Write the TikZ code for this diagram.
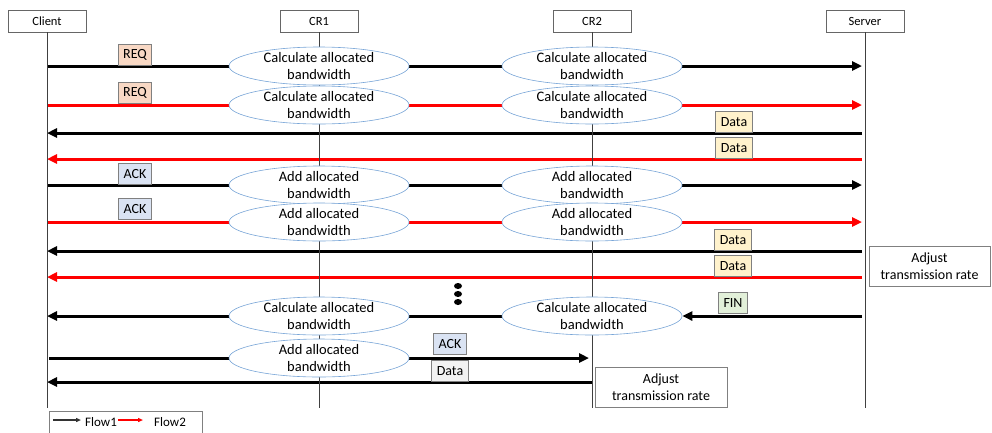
\documentclass[tikz,border=0pt]{standalone}
\usepackage{fontspec}
\setmainfont{Carlito}
\usetikzlibrary{arrows.meta,backgrounds,positioning,shapes.geometric}
\definecolor{procblue}{RGB}{120,165,215}
\definecolor{reqfill}{RGB}{248,216,196}
\definecolor{ackfill}{RGB}{218,227,243}
\definecolor{datafill}{RGB}{255,242,204}
\definecolor{finfill}{RGB}{226,240,217}
\definecolor{lastfill}{RGB}{242,242,242}
\tikzset{
  hdr/.style={draw=gray!80!black, minimum width=78pt, minimum height=22pt, inner sep=0pt, font=\fontsize{12.5}{15}\selectfont},
  proc/.style={ellipse, draw=procblue, line width=0.6pt, fill=white, minimum width=180pt, minimum height=38pt, inner xsep=0pt, inner ysep=-3pt, align=center, font=\fontsize{14.5}{17}\selectfont},
  tag/.style={draw=gray, line width=0.8pt, inner xsep=5pt, inner ysep=0pt, minimum height=21pt, anchor=south, font=\fontsize{14}{16}\selectfont},
  note/.style={draw=gray, line width=0.8pt, align=center, minimum height=40pt, inner sep=0pt, font=\fontsize{14}{17}\selectfont},
  life/.style={draw=black!75, line width=0.8pt},
  flow1/.style={line width=3pt, black},
  flow2/.style={line width=3pt, red},
  tip/.style={-{Triangle[length=10pt,width=9pt]}},
}
\begin{document}
\begin{tikzpicture}[x=1pt,y=-1pt]
\useasboundingbox (0,0) rectangle (992,432);
% lanes
\node[hdr] (client) at (47,21) {Client};
\node[hdr] (cr1) at (319,21) {CR1};
\node[hdr] (cr2) at (592,21) {CR2};
\node[hdr] (server) at (865,21) {Server};
\coordinate (bottom) at (0,408);
\draw[life] (client) -- (client |- bottom);
\draw[life] (cr1) -- (cr1 |- bottom);
\draw[life] (cr2) -- (cr2 |- bottom);
\draw[life] (server) -- (server |- bottom);
% router actions
\node[proc] (r1a) at (319,66) {Calculate allocated\\bandwidth};
\node[proc] (r1b) at (592,66) {Calculate allocated\\bandwidth};
\node[proc] (r2a) at (319,105) {Calculate allocated\\bandwidth};
\node[proc] (r2b) at (592,105) {Calculate allocated\\bandwidth};
\node[proc] (r5a) at (319,185) {Add allocated\\bandwidth};
\node[proc] (r5b) at (592,185) {Add allocated\\bandwidth};
\node[proc] (r6a) at (319,222) {Add allocated\\bandwidth};
\node[proc] (r6b) at (592,222) {Add allocated\\bandwidth};
\node[proc] (r9a) at (319,316) {Calculate allocated\\bandwidth};
\node[proc] (r9b) at (592,316) {Calculate allocated\\bandwidth};
\node[proc] (r10a) at (319,358) {Add allocated\\bandwidth};
% packets
\node[tag, fill=reqfill] (req1) at (135,66) {REQ};
\node[tag, fill=reqfill] (req2) at (135,104) {REQ};
\node[tag, fill=datafill] (data1) at (734,133) {Data};
\node[tag, fill=datafill] (data2) at (734,159) {Data};
\node[tag, fill=ackfill] (ack1) at (135,185) {ACK};
\node[tag, fill=ackfill] (ack2) at (135,220) {ACK};
\node[tag, fill=datafill] (data3) at (733,251) {Data};
\node[tag, fill=datafill] (data4) at (733,277) {Data};
\node[tag, fill=finfill] (fin) at (733,314) {FIN};
\node[tag, fill=ackfill] (ack3) at (450,355) {ACK};
\node[tag, fill=lastfill] (data5) at (450,382) {Data};
% rate control
\node[note, minimum width=121pt] (adj1) at (929.5,266.5) {Adjust\\transmission rate};
\node[note, minimum width=132pt] (adj2) at (661,387) {Adjust\\transmission rate};
\fill (458,286) ellipse (4pt and 3pt);
\fill (458,294) ellipse (4pt and 3pt);
\fill (458,302) ellipse (4pt and 3pt);
% messages
\begin{scope}[on background layer]
\draw[flow1] (client |- r1a) -- (r1a);
\draw[flow1] (r1a) -- (r1b);
\draw[flow1,tip,shorten >=3pt] (r1b) -- (server |- r1b);
\draw[flow2] (client |- r2a) -- (r2a);
\draw[flow2] (r2a) -- (r2b);
\draw[flow2,tip,shorten >=3pt] (r2b) -- (server |- r2b);
\draw[flow1,tip,shorten <=3pt] (server |- data1.south) -- (client |- data1.south);
\draw[flow2,tip,shorten <=3pt] (server |- data2.south) -- (client |- data2.south);
\draw[flow1] (client |- r5a) -- (r5a);
\draw[flow1] (r5a) -- (r5b);
\draw[flow1,tip,shorten >=3pt] (r5b) -- (server |- r5b);
\draw[flow2] (client |- r6a) -- (r6a);
\draw[flow2] (r6a) -- (r6b);
\draw[flow2,tip,shorten >=3pt] (r6b) -- (server |- r6b);
\draw[flow1,tip,shorten <=3pt] (server |- data3.south) -- (client |- data3.south);
\draw[flow2,tip,shorten <=3pt] (server |- data4.south) -- (client |- data4.south);
\draw[flow1,tip,shorten <=3pt] (server |- r9b) -- (r9b);
\draw[flow1] (r9b) -- (r9a);
\draw[flow1,tip] (r9a) -- (client |- r9a);
\draw[flow1,shorten <=2pt] (client |- r10a) -- (r10a);
\draw[flow1,tip,shorten >=3pt] (r10a) -- (cr2 |- r10a);
\draw[flow1,tip] (cr2 |- data5.south) -- (client |- data5.south);
\end{scope}
% legend
\node[draw=gray, line width=0.8pt, anchor=north west, minimum width=153pt, minimum height=26pt] (legend) at (49,411) {};
\coordinate (l1) at (53,420);
\node[anchor=west, inner sep=1pt, font=\fontsize{13}{15}\selectfont] (f1) at (84,422) {Flow1};
\node[anchor=west, inner sep=1pt, font=\fontsize{13}{15}\selectfont] (f2) at (153,422) {Flow2};
\draw[black!80, line width=1.5pt, -{Triangle[length=5pt,width=4pt]}] (l1) -- ([xshift=-3pt]l1 -| f1.west);
\draw[red, line width=1.5pt, -{Triangle[length=5pt,width=4pt]}] (l1 -| f1.east) -- ([xshift=-10pt]l1 -| f2.west);
\end{tikzpicture}
\end{document}
